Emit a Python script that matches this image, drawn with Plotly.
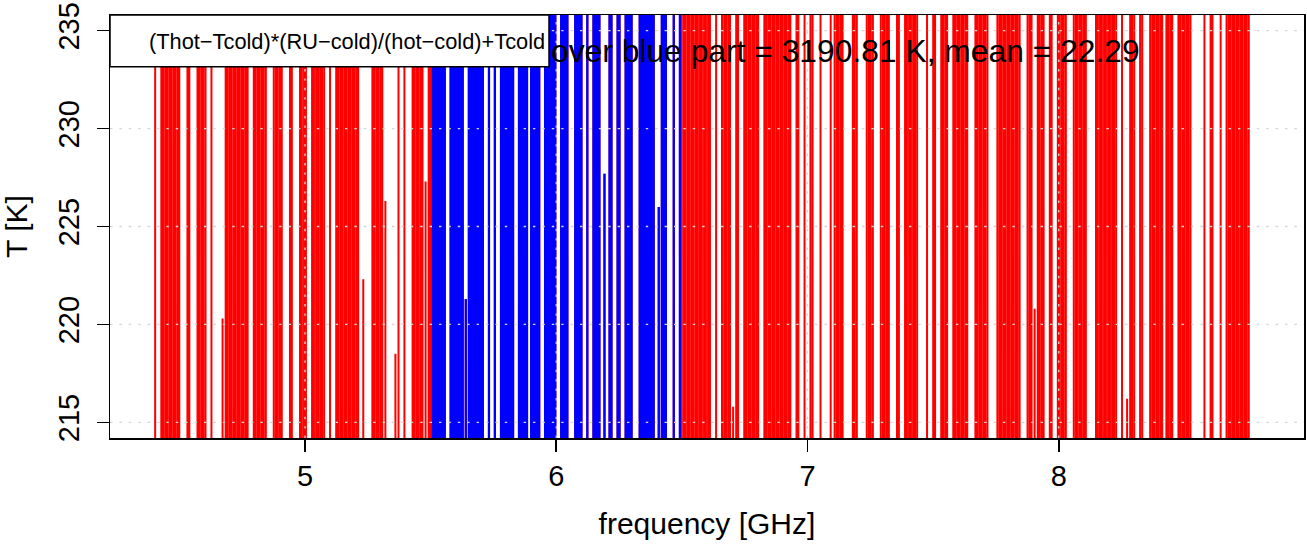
import plotly.graph_objects as go

# ---------------- data ----------------
channel_start_ghz = 4.4      # first spectrometer channel
channel_step_ghz = 0.008     # channel spacing
HI = 3190.0                  # channel values far above the visible window (estimated)
LO = -3150.0                 # channel values far below the visible window (estimated)
H, L = HI, LO

# calibrated temperature per channel, (Thot-Tcold)*(RU-cold)/(hot-cold)+Tcold  [K]
t_kelvin = [
    H, L, L, L, H, L, H, L, H, L,
    H, L, H, L, L, L, L, H, L, L,
    L, L, H, L, H, L, H, H, H, L,
    L, L, L, L, 220.3, L, H, L, H, L,
    H, L, H, L, H, L, H, L, L, L,
    H, L, H, L, H, L, H, H, H, H,
    L, H, L, H, L, L, L, L, H, L,
    L, L, L, H, L, H, L, L, L, H,
    L, H, L, H, L, H, H, H, L, L,
    L, H, L, H, L, H, L, H, L, H,
    L, H, L, L, 222.3, L, L, L, L, H,
    L, H, L, H, L, 226.3, L, L, L, L,
    218.5, L, H, H, H, L, L, L, L, H,
    L, H, L, H, L, 227.3, L, H, L, H,
    L, H, L, H, L, H, H, H, L, H,
    L, H, L, H, L, 221.3, L, H, L, H,
    L, H, L, H, L, L, L, H, H, H,
    L, L, L, H, L, H, L, H, L, H,
    H, H, L, H, L, H, L, L, H, L,
    H, L, H, H, H, L, H, L, H, L,
    H, H, H, L, H, L, H, H, H, H,
    L, H, L, H, H, H, L, L, L, H,
    L, H, L, L, 227.7, L, L, H, L, L,
    L, H, L, L, L, H, L, H, L, L,
    L, L, H, L, H, L, H, L, H, L,
    L, 226.0, L, H, L, H, H, H, H, L,
    L, L, H, L, H, L, H, L, H, L,
    H, L, H, L, H, L, H, L, L, L,
    H, H, H, L, H, L, H, L, 215.8, L,
    H, L, L, L, H, L, H, L, H, L,
    H, L, L, L, H, L, H, L, H, L,
    H, L, H, L, H, L, H, L, L, L,
    H, L, L, L, H, H, H, L, H, H,
    H, H, L, L, L, L, L, H, H, L,
    H, L, H, L, L, L, L, L, H, L,
    H, H, H, H, H, L, H, L, H, H,
    H, H, L, H, L, H, L, L, L, L,
    H, L, L, L, H, L, H, L, H, L,
    H, H, H, H, H, L, L, L, H, L,
    L, L, H, L, H, L, L, L, H, L,
    H, L, H, L, H, L, L, L, L, H,
    L, H, L, H, L, H, H, H, H, H,
    L, H, L, H, L, H, L, H, L, H,
    L, H, H, H, H, L, H, L, 220.8, L,
    H, L, H, L, L, L, H, L, L, L,
    H, L, H, L, H, H, H, H, L, H,
    L, H, L, H, L, L, L, L, L, H,
    L, H, L, H, L, H, L, H, L, H,
    H, H, L, L, 216.2, L, H, L, H, H,
    H, L, H, H, H, H, L, H, L, H,
    L, H, L, L, H, L, H, L, L, L,
    H, L, H, L, H, L, H, H, H, H,
    H, H, H, L, L, L, H, L, L, L,
    L, H, H, H, L, H, L, H, L, H,
    L, H, L, H, L, H, H, H, H, H,
    H,
]

freq_ghz = [round(channel_start_ghz + channel_step_ghz * i, 3) for i in range(len(t_kelvin))]

blue_part_ghz = [5.5, 6.5]
x_ticks = [5, 6, 7, 8]
y_ticks = [215, 220, 225, 230, 235]
x_range = [4.224, 8.976]
y_range = [214.2, 235.8]

legend_label = "(Thot\u2212Tcold)*(RU\u2212cold)/(hot\u2212cold)+Tcold"
title_visible = "over blue part = 3190.81 K, mean = 22.29"
x_label = "frequency [GHz]"
y_label = "T [K]"

# ---------------- figure ----------------
FONT = "Liberation Sans, Arial, Helvetica, sans-serif"
W, Hh = 1307, 546
ML, MR, MT, MB = 110, 3, 15, 108
PW, PH = W - ML - MR, Hh - MT - MB


def px_x(px):
    return (px - ML) / PW


def px_y(py):
    return 1 - (py - MT) / PH


blue_f = [f for f in freq_ghz if blue_part_ghz[0] <= f <= blue_part_ghz[1]]
blue_t = [t for f, t in zip(freq_ghz, t_kelvin) if blue_part_ghz[0] <= f <= blue_part_ghz[1]]

fig = go.Figure()
fig.add_trace(go.Scatter(x=freq_ghz, y=t_kelvin, mode="lines",
                         line=dict(color="#FF0000", width=2.0, simplify=False),
                         hoverinfo="skip", showlegend=False))
fig.add_trace(go.Scatter(x=blue_f, y=blue_t, mode="lines",
                         line=dict(color="#0000FF", width=2.3, simplify=False),
                         hoverinfo="skip", showlegend=False))

shapes = []
grid_line = dict(color="#D3D3D3", width=1.3, dash="2.4px,7px")
for yv in y_ticks:
    shapes.append(dict(type="line", xref="paper", yref="y", x0=0, x1=1, y0=yv, y1=yv,
                       line=grid_line, layer="above"))
for xv in x_ticks:
    shapes.append(dict(type="line", xref="x", yref="paper", x0=xv, x1=xv, y0=0, y1=1,
                       line=grid_line, layer="above"))
# legend box
shapes.append(dict(type="rect", xref="paper", yref="paper",
                   x0=0, x1=px_x(549), y0=px_y(66.7), y1=1,
                   line=dict(color="black", width=1.5), fillcolor="white", layer="above"))

annotations = [
    dict(text=legend_label, xref="paper", yref="paper", x=px_x(147), y=px_y(42),
         xanchor="left", yanchor="middle", showarrow=False,
         font=dict(family=FONT, size=21.8, color="black")),
    dict(text=title_visible, xref="paper", yref="paper", x=px_x(549), y=px_y(51),
         xanchor="left", yanchor="middle", showarrow=False,
         font=dict(family=FONT, size=31.8, color="black")),
]

axis_common = dict(showgrid=False, zeroline=False, showline=True, mirror=True,
                   linecolor="black", linewidth=1.5, ticks="outside", ticklen=12,
                   tickwidth=1.5, tickcolor="black", layer="above traces",
                   tickfont=dict(family=FONT, size=29, color="black"))

fig.update_layout(
    width=W, height=Hh,
    margin=dict(l=ML, r=MR, t=MT, b=MB, autoexpand=False),
    paper_bgcolor="white", plot_bgcolor="white",
    showlegend=False,
    shapes=shapes, annotations=annotations,
    xaxis=dict(range=x_range, tickmode="array", tickvals=x_ticks,
               ticktext=[str(v) for v in x_ticks],
               title=dict(text=x_label, font=dict(family=FONT, size=30, color="black"), standoff=21),
               **axis_common),
    yaxis=dict(range=y_range, tickmode="array", tickvals=y_ticks,
               ticktext=[str(v) for v in y_ticks], tickangle=-90, ticklabelstandoff=6,
               title=dict(text=y_label, font=dict(family=FONT, size=30, color="black"), standoff=20),
               **axis_common),
)

fig.write_html("out.html", config={"displayModeBar": False, "staticPlot": True},
               post_script="document.body.style.margin='0px';")
